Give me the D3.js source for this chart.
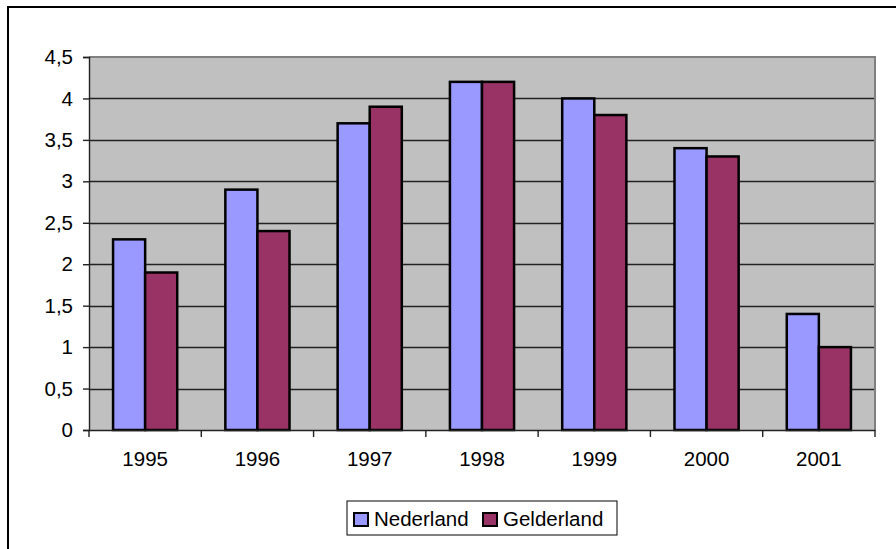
<!DOCTYPE html>
<html>
<head>
<meta charset="utf-8">
<script src="https://cdn.jsdelivr.net/npm/d3@7"></script>
<style>
  html, body { margin: 0; padding: 0; background: #fff; }
  svg { display: block; font-family: "Liberation Sans", Arial, sans-serif; }
</style>
</head>
<body>
<div id="main-container"></div>
<script>
// Data
const years = ['1995', '1996', '1997', '1998', '1999', '2000', '2001'];
const nederland = [2.3, 2.9, 3.7, 4.2, 4.0, 3.4, 1.4];
const gelderland = [1.9, 2.4, 3.9, 4.2, 3.8, 3.3, 1.0];
const seriesNames = ['Nederland', 'Gelderland'];
const yTicks = [0, 0.5, 1, 1.5, 2, 2.5, 3, 3.5, 4, 4.5];

const SVG_WIDTH = 896;
const SVG_HEIGHT = 549;
const PLOT = { left: 89, top: 57, right: 875, bottom: 430 };
const COLORS = ['#9999FF', '#993366'];
const FONT_SIZE = '20.5px';

const SVG = d3.select('#main-container').append('svg')
    .attr('width', SVG_WIDTH)
    .attr('height', SVG_HEIGHT);

// Outer chart frame (runs off the right and bottom of the picture)
SVG.append('rect')
    .attr('x', 8)
    .attr('y', 7)
    .attr('width', 1000)
    .attr('height', 1000)
    .attr('fill', '#fff')
    .attr('stroke', '#000')
    .attr('stroke-width', 2);

// Scales
const x = d3.scaleBand()
    .domain(years)
    .range([PLOT.left, PLOT.right]);

// excel style gap width 150%
const x1 = d3.scaleBand()
    .domain(seriesNames)
    .range([0, x.bandwidth()])
    .paddingOuter(0.75)
    .paddingInner(0);

const y = d3.scaleLinear()
    .domain([0, 4.5])
    .range([PLOT.bottom, PLOT.top]);

// Plot background
SVG.append('rect')
    .attr('x', PLOT.left)
    .attr('y', PLOT.top)
    .attr('width', PLOT.right - PLOT.left)
    .attr('height', PLOT.bottom - PLOT.top)
    .attr('fill', '#C0C0C0');

// Gridlines
SVG.append('g')
    .selectAll('line')
    .data(yTicks.filter(d => d > 0 && d < 4.5))
    .enter()
    .append('line')
    .attr('x1', PLOT.left)
    .attr('x2', PLOT.right)
    .attr('y1', d => Math.round(y(d)) + 0.5)
    .attr('y2', d => Math.round(y(d)) + 0.5)
    .attr('stroke', '#222')
    .attr('stroke-width', 1.4);

// Plot border top/right
SVG.append('path')
    .attr('d', `M${PLOT.left},${PLOT.top} H${PLOT.right} V${PLOT.bottom}`)
    .attr('fill', 'none')
    .attr('stroke', '#808080')
    .attr('stroke-width', 2);

// Bars
const fmt = v => String(v).replace('.', ',');
const groups = SVG.append('g')
    .selectAll('g')
    .data(years)
    .enter()
    .append('g')
    .attr('transform', d => `translate(${x(d)},0)`);

groups.selectAll('rect')
    .data((d, i) => [
        { name: seriesNames[0], value: nederland[i] },
        { name: seriesNames[1], value: gelderland[i] }
    ])
    .enter()
    .append('rect')
    .attr('x', d => x1(d.name))
    .attr('y', d => y(d.value))
    .attr('width', x1.bandwidth())
    .attr('height', d => y(0) - y(d.value))
    .attr('fill', (d, i) => COLORS[i])
    .attr('stroke', '#000')
    .attr('stroke-width', 2.5);

// Y axis
const yAxis = d3.axisLeft(y)
    .tickValues(yTicks)
    .tickSize(6)
    .tickPadding(10)
    .tickFormat(fmt);

const yG = SVG.append('g')
    .attr('transform', `translate(${PLOT.left},0)`)
    .call(yAxis);
yG.select('.domain').attr('stroke', '#222').attr('stroke-width', 1.4);
yG.selectAll('.tick line').attr('stroke', '#222').attr('stroke-width', 1.4);
yG.selectAll('text')
    .style('font-size', FONT_SIZE)
    .attr('fill', '#000');

// X axis
const xAxis = d3.axisBottom(x)
    .tickSize(0)
    .tickPadding(21);

const xG = SVG.append('g')
    .attr('transform', `translate(0,${PLOT.bottom})`)
    .call(xAxis);
xG.select('.domain').attr('stroke', '#222').attr('stroke-width', 1.4);
xG.selectAll('text')
    .style('font-size', FONT_SIZE)
    .attr('fill', '#000');

// category boundary ticks
xG.append('g')
    .selectAll('line')
    .data(years.concat(['end']))
    .enter()
    .append('line')
    .attr('x1', (d, i) => i < years.length ? x(d) : PLOT.right)
    .attr('x2', (d, i) => i < years.length ? x(d) : PLOT.right)
    .attr('y1', 0)
    .attr('y2', 7)
    .attr('stroke', '#222')
    .attr('stroke-width', 1.4);

// Legend
const LEGEND = SVG.append('g')
    .attr('transform', 'translate(347,501)');

LEGEND.append('rect')
    .attr('x', 0)
    .attr('y', 0)
    .attr('width', 270)
    .attr('height', 34)
    .attr('fill', '#fff')
    .attr('stroke', '#000')
    .attr('stroke-width', 1);

const legendX = [7, 136];
seriesNames.forEach((name, i) => {
    LEGEND.append('rect')
        .attr('x', legendX[i])
        .attr('y', 12)
        .attr('width', 14)
        .attr('height', 13)
        .attr('fill', COLORS[i])
        .attr('stroke', '#000')
        .attr('stroke-width', 2);
    LEGEND.append('text')
        .attr('x', legendX[i] + 20)
        .attr('y', 25)
        .style('font-size', FONT_SIZE)
        .text(name);
});
</script>
</body>
</html>
